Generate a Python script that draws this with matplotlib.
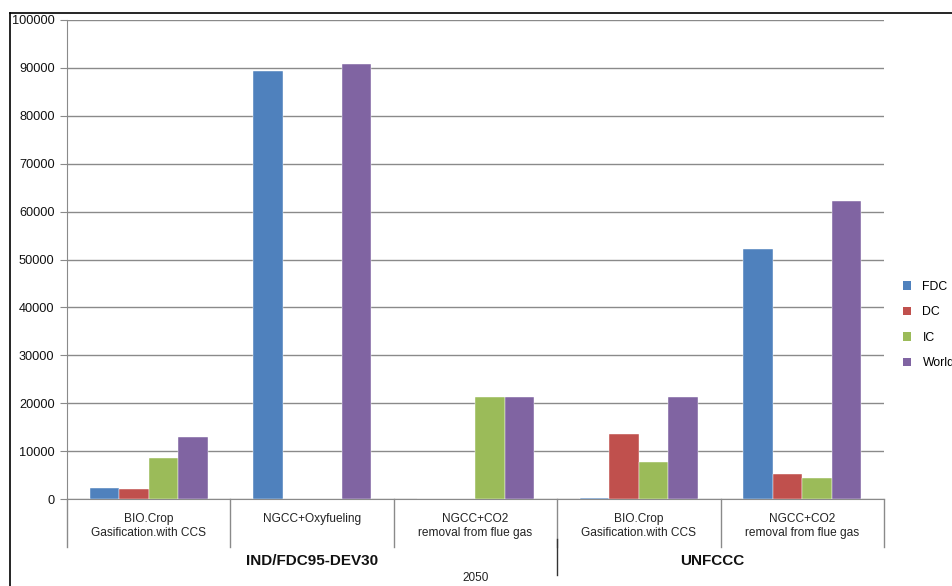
import matplotlib
matplotlib.use("Agg")
import matplotlib.pyplot as plt
from matplotlib.patches import Patch
from matplotlib.lines import Line2D
import numpy as np

plt.rcParams['font.family'] = ['Liberation Sans', 'DejaVu Sans']

categories = ["BIO.Crop\nGasification.with CCS", "NGCC+Oxyfueling",
              "NGCC+CO2\nremoval from flue gas",
              "BIO.Crop\nGasification.with CCS", "NGCC+CO2\nremoval from flue gas"]
groups = ["IND/FDC95-DEV30", "UNFCCC"]
group_sizes = [3, 2]
year_label = "2050"
series = ["FDC", "DC", "IC", "World"]
fdc = [2300, 89400, 0, 300, 52200]
dc = [2000, 0, 0, 13600, 5300]
ic = [8600, 0, 21300, 7700, 4300]
world = [13000, 90800, 21300, 21300, 62200]
colors = ["#4F81BD", "#C0504D", "#9BBB59", "#8064A2"]
yticks = list(range(0, 100001, 10000))

W, H = 952, 586
fig = plt.figure(figsize=(W / 100, H / 100), dpi=100)
ax = fig.add_axes([67 / W, (H - 499) / H, 817 / W, 479 / H])

x = np.arange(len(categories))
bw = 0.18
data = [fdc, dc, ic, world]
for i, (vals, c) in enumerate(zip(data, colors)):
    ax.bar(x + (i - 1.5) * bw, vals, width=bw, color=c, edgecolor="white",
           linewidth=0.3, zorder=3)

ax.set_xlim(-0.5, len(categories) - 0.5)
ax.set_ylim(0, 100000)
ax.set_yticks(yticks)
ax.set_yticklabels([str(v) for v in yticks], fontsize=9.2, color="#111111")
ax.yaxis.grid(True, color="#8a8a8a", linewidth=1.0, zorder=0)
ax.set_axisbelow(True)
for s in ["top", "right"]:
    ax.spines[s].set_visible(False)
ax.spines["left"].set_color("#8a8a8a")
ax.spines["bottom"].set_color("#8a8a8a")
ax.tick_params(axis="y", length=5, color="#8a8a8a", pad=4)
ax.set_xticks(x)
ax.set_xticklabels(categories, fontsize=8.6, color="#222222", linespacing=1.25)
ax.tick_params(axis="x", length=0, pad=10)

trans = ax.get_xaxis_transform()
ppy = 1 / 479.0
# inner separators
for b in np.arange(-0.5, len(categories), 1.0):
    ax.plot([b, b], [0, -48 * ppy], transform=trans, color="#8a8a8a",
            lw=1.0, clip_on=False)
# group separators
start = -0.5
bounds = [start]
for gsz in group_sizes:
    start += gsz
    bounds.append(start)
ax.plot([bounds[1], bounds[1]], [-40 * ppy, -76 * ppy], transform=trans,
        color="#333333", lw=1.0, clip_on=False)
for gi, g in enumerate(groups):
    cx = (bounds[gi] + bounds[gi + 1]) / 2
    if gi == 1:
        cx -= 0.05
    ax.text(cx, -62 * ppy, g, transform=trans, ha="center", va="center",
            fontsize=11, fontweight="bold", color="#111111")
ax.text((bounds[0] + bounds[-1]) / 2, -79 * ppy, year_label, transform=trans,
        ha="center", va="center", fontsize=8.5, color="#222222")

# chart area border
fig.add_artist(Line2D([10 / W, 1], [1 - 13 / H, 1 - 13 / H], color="black", lw=1.2))
fig.add_artist(Line2D([10 / W, 10 / W], [0, 1 - 13 / H], color="black", lw=1.2))

handles = [Patch(facecolor=c, edgecolor="none") for c in colors]
fig.legend(handles, series, loc="upper left",
           bbox_to_anchor=(898 / W, 1 - 276 / H), frameon=False,
           fontsize=8.8, handlelength=0.7, handleheight=0.7,
           handletextpad=0.9, labelspacing=1.1, borderaxespad=0)

fig.savefig("out.png", dpi=100)
